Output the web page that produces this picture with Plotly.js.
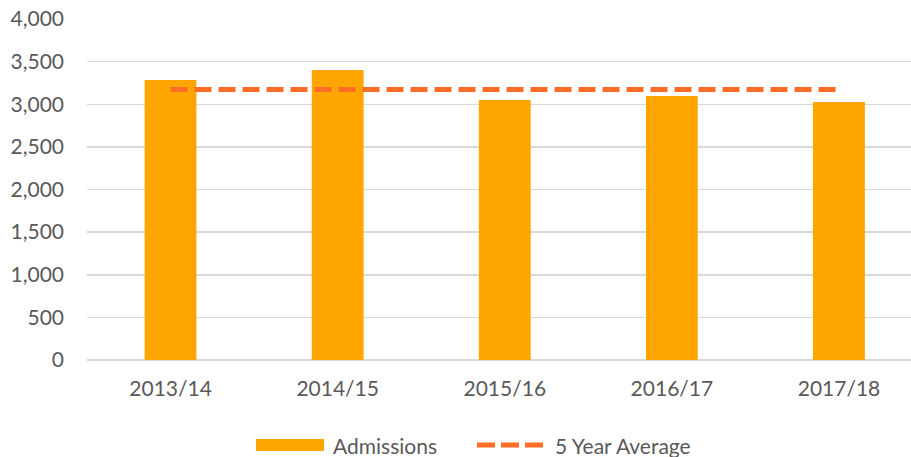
<!DOCTYPE html>
<html>
<head>
<meta charset="utf-8">
<script src="https://cdn.plot.ly/plotly-3.0.1.min.js"></script>
<style>html,body{margin:0;padding:0;background:#fff;}#chart{width:911px;height:457px;}</style>
</head>
<body>
<div id="chart"></div>
<script>
const categories = ["2013/14", "2014/15", "2015/16", "2016/17", "2017/18"];
const admissions = [3284, 3402, 3050, 3097, 3026];
const fiveYearAverage = [3172, 3172, 3172, 3172, 3172];
const yTickValues = [0, 500, 1000, 1500, 2000, 2500, 3000, 3500, 4000];
const yTickLabels = ["0", "500", "1,000", "1,500", "2,000", "2,500", "3,000", "3,500", "4,000"];
const seriesNames = ["Admissions", "5 Year Average"];

const barColor = "#FFA500";
const lineColor = "#FF6D25";
const textColor = "#595959";
const font = "Lato, 'Open Sans', sans-serif";

const traces = [
  {
    type: "bar", name: seriesNames[0], x: [0,1,2,3,4], y: admissions,
    marker: {color: barColor}, width: 0.31, hoverinfo: "y"
  },
  {
    type: "scatter", mode: "lines", name: seriesNames[1], x: [0,1,2,3,4], y: fiveYearAverage,
    line: {color: lineColor, width: 5, dash: "17px,7px"}
  }
];

// custom legend drawn in paper coordinates (plot area: x 87..911 px, y 19..360 px)
const px = v => (v - 87) / 824;
const py = v => (360 - v) / 341;

const layout = {
  width: 911, height: 457,
  margin: {l: 87, r: 0, t: 19, b: 97},
  paper_bgcolor: "#fff", plot_bgcolor: "#fff",
  font: {family: font, size: 21, color: textColor},
  showlegend: false,
  xaxis: {
    range: [-0.5, 4.431], tickvals: [0,1,2,3,4], ticktext: categories,
    showgrid: false, zeroline: false, showline: false, ticks: "", ticklabelstandoff: 14,
    tickfont: {size: 21, color: textColor}
  },
  yaxis: {
    range: [0, 4000], tickvals: yTickValues, ticktext: yTickLabels,
    showgrid: true, gridcolor: "#D9D9D9", gridwidth: 1.5,
    zeroline: true, zerolinecolor: "#D9D9D9", zerolinewidth: 1.5,
    showline: false, ticks: "", ticklabelstandoff: 22,
    tickfont: {size: 21, color: textColor}
  },
  shapes: [
    {type: "rect", xref: "paper", yref: "paper", x0: px(256), x1: px(324), y0: py(451), y1: py(439),
     fillcolor: barColor, line: {width: 0}},
    {type: "line", xref: "paper", yref: "paper", x0: px(477), x1: px(543), y0: py(445), y1: py(445),
     line: {color: lineColor, width: 5, dash: "18px,6px"}}
  ],
  annotations: [
    {xref: "paper", yref: "paper", x: px(331), y: py(445), xanchor: "left", yanchor: "middle",
     text: seriesNames[0], showarrow: false, font: {size: 21, color: textColor}},
    {xref: "paper", yref: "paper", x: px(553), y: py(445), xanchor: "left", yanchor: "middle",
     text: seriesNames[1], showarrow: false, font: {size: 21, color: textColor}}
  ]
};
Plotly.newPlot("chart", traces, layout, {displayModeBar: false, staticPlot: true});
</script>
</body>
</html>
